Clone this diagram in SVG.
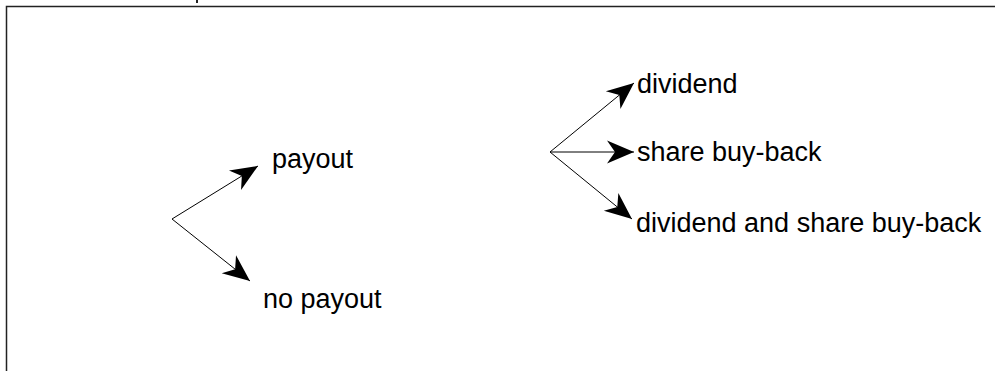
<svg xmlns="http://www.w3.org/2000/svg" width="995" height="371" viewBox="0 0 995 371">
<style>
.lbl{font-family:"Liberation Sans",Arial,sans-serif;font-size:27px;fill:#000}
.edge{stroke:#000;stroke-width:1;fill:none;marker-end:url(#ah)}
.frame{stroke:#222;stroke-width:1.5;fill:none}
</style>
<defs>
<marker id="ah" markerUnits="userSpaceOnUse" markerWidth="34" markerHeight="28" viewBox="-30 -14 34 28" refX="0" refY="0" orient="auto">
<path d="M0,0 L-27,-11.5 L-19,0 L-27,11.5 Z" fill="#000"/>
</marker>
</defs>
<rect width="995" height="371" fill="#fff"/>
<path class="frame" d="M6.5,371 L6.5,6.5 L995,6.5"/>
<rect x="196" y="0" width="2" height="3" fill="#222"/>
<g id="connectors">
<line class="edge" x1="172" y1="219" x2="258" y2="166"/>
<line class="edge" x1="172" y1="219" x2="250" y2="281"/>
<line class="edge" x1="550" y1="152" x2="634" y2="83"/>
<line class="edge" x1="550" y1="152" x2="634" y2="152"/>
<line class="edge" x1="550" y1="152" x2="632" y2="219"/>
</g>
<g id="payout"><text class="lbl" x="272" y="168">payout</text></g>
<g id="no-payout"><text class="lbl" x="263" y="308">no payout</text></g>
<g id="dividend"><text class="lbl" x="637" y="93">dividend</text></g>
<g id="share-buy-back"><text class="lbl" x="637" y="161">share buy-back</text></g>
<g id="dividend-and-share-buy-back"><text class="lbl" x="636" y="232">dividend and share buy-back</text></g>
</svg>
